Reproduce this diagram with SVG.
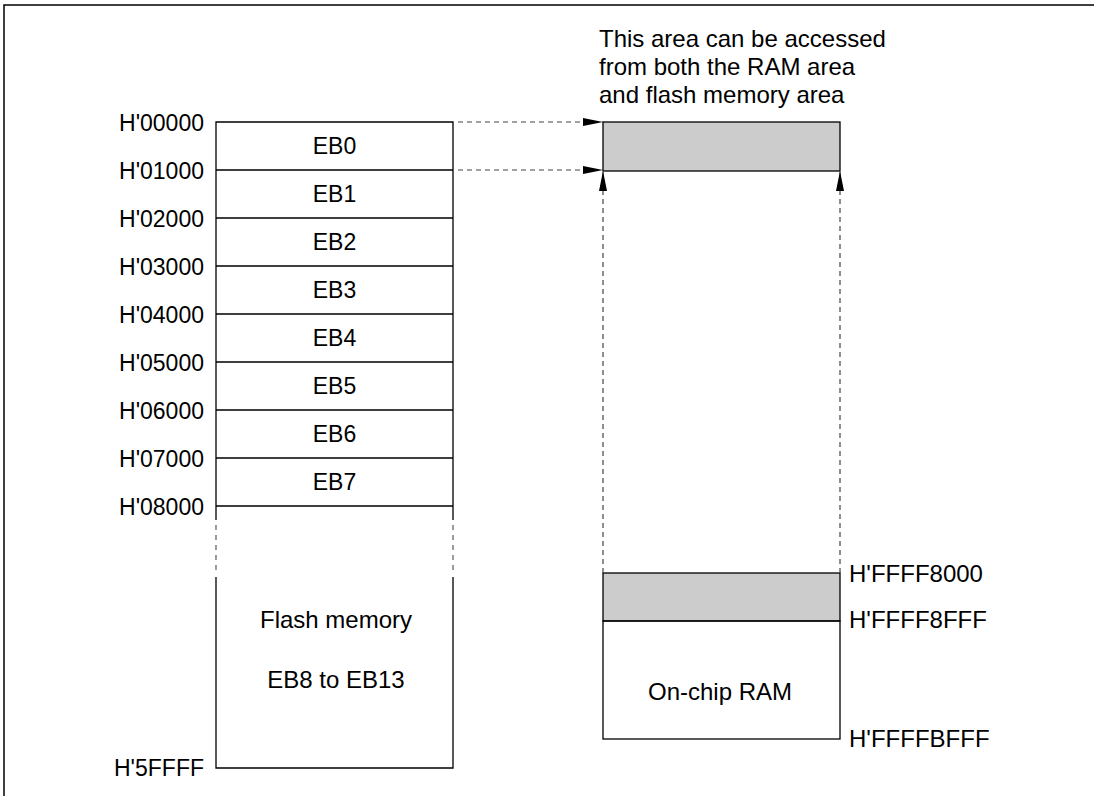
<svg xmlns="http://www.w3.org/2000/svg" width="1094" height="796" viewBox="0 0 1094 796">
<defs>
<style>
text{font-family:"Liberation Sans",Arial,sans-serif;font-size:23px;fill:#000}
.big{font-size:24px}
.c{text-anchor:middle}
.r{text-anchor:end}
.box{fill:none;stroke:#000;stroke-width:1.3}
.gray{fill:#cccccc;stroke:#000;stroke-width:1.3}
.dash{fill:none;stroke:#444;stroke-width:1.2;stroke-dasharray:5,4}
</style>
<marker id="ah" markerWidth="20" markerHeight="8" refX="20" refY="4" orient="auto" markerUnits="userSpaceOnUse">
<path d="M0,0 L20,4 L0,8 Z" fill="#000"/>
</marker>
</defs>
<rect width="1094" height="796" fill="#fff"/>
<path d="M4,796 V5 H1094" fill="none" stroke="#000" stroke-width="1.5"/>

<g id="flash">
<path class="box" d="M216,520 V122 H453 V520 M216,577 V768 H453 V577"/>
<path class="box" d="M216,170 H453 M216,218 H453 M216,266 H453 M216,314 H453 M216,362 H453 M216,410 H453 M216,458 H453 M216,506 H453"/>
<path d="M216,525 V572 M453,525 V572" fill="none" stroke="#666" stroke-width="1.3" stroke-dasharray="5,5"/>
<text class="c" x="334.5" y="154">EB0</text>
<text class="c" x="334.5" y="202">EB1</text>
<text class="c" x="334.5" y="250">EB2</text>
<text class="c" x="334.5" y="298">EB3</text>
<text class="c" x="334.5" y="346">EB4</text>
<text class="c" x="334.5" y="394">EB5</text>
<text class="c" x="334.5" y="442">EB6</text>
<text class="c" x="334.5" y="490">EB7</text>
<text class="c big" x="336" y="628">Flash memory</text>
<text class="c big" x="336" y="688">EB8 to EB13</text>
</g>

<g id="flash-addresses">
<text class="r" x="204" y="131">H'00000</text>
<text class="r" x="204" y="179">H'01000</text>
<text class="r" x="204" y="227">H'02000</text>
<text class="r" x="204" y="275">H'03000</text>
<text class="r" x="204" y="323">H'04000</text>
<text class="r" x="204" y="371">H'05000</text>
<text class="r" x="204" y="419">H'06000</text>
<text class="r" x="204" y="467">H'07000</text>
<text class="r" x="204" y="515">H'08000</text>
<text class="r" x="204" y="776">H'5FFFF</text>
</g>

<g id="shared-area">
<rect class="gray" x="603" y="122" width="237" height="49"/>
</g>

<g id="ram">
<rect class="gray" x="603" y="573" width="237" height="48"/>
<rect class="box" x="603" y="621" width="237" height="118"/>
<text class="c big" x="720" y="700">On-chip RAM</text>
<text class="big" x="849" y="582">H'FFFF8000</text>
<text class="big" x="849" y="628">H'FFFF8FFF</text>
<text class="big" x="849" y="747">H'FFFFBFFF</text>
</g>

<g id="note">
<text class="big" x="599" y="47">This area can be accessed</text>
<text class="big" x="599" y="75">from both the RAM area</text>
<text class="big" x="599" y="103">and flash memory area</text>
</g>

<g id="connectors">
<path class="dash" d="M458,122 H603" marker-end="url(#ah)"/>
<path class="dash" d="M458,170 H603" marker-end="url(#ah)"/>
<path class="dash" d="M603,573 V171" marker-end="url(#ah)"/>
<path class="dash" d="M840,573 V171" marker-end="url(#ah)"/>
</g>
</svg>
